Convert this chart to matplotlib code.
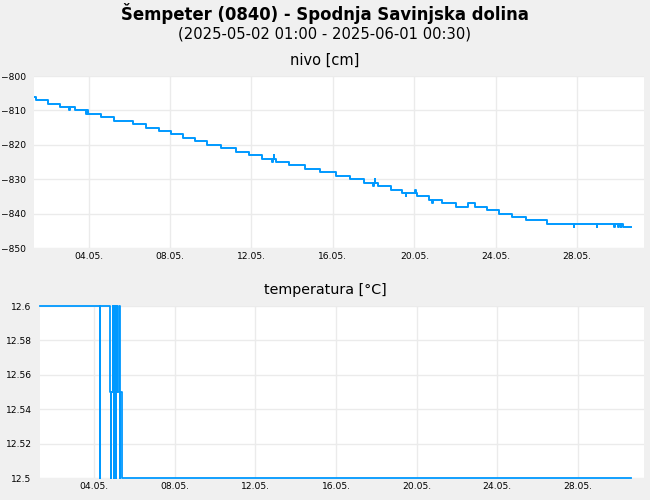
import matplotlib
matplotlib.use("Agg")
import matplotlib.pyplot as plt
import matplotlib.dates as mdates
from matplotlib.ticker import FuncFormatter, MultipleLocator
import pandas as pd

# nivo [cm] - change points of the step series
level_times = [
    "2025-05-01 07:40", "2025-05-01 10:30", "2025-05-02 00:00", "2025-05-02 14:30",
    "2025-05-03 01:30", "2025-05-03 02:00", "2025-05-03 08:00", "2025-05-03 21:30",
    "2025-05-03 22:00", "2025-05-03 23:00", "2025-05-04 15:00", "2025-05-05 06:30",
    "2025-05-06 04:00", "2025-05-06 20:00", "2025-05-07 11:00", "2025-05-08 01:30",
    "2025-05-08 15:30", "2025-05-09 05:00", "2025-05-09 20:00", "2025-05-10 12:30",
    "2025-05-11 05:30", "2025-05-11 21:30", "2025-05-12 12:00", "2025-05-13 00:30",
    "2025-05-13 01:00", "2025-05-13 02:30", "2025-05-13 03:00", "2025-05-13 04:30",
    "2025-05-13 20:00", "2025-05-14 15:00", "2025-05-15 08:30", "2025-05-16 04:00",
    "2025-05-16 20:30", "2025-05-17 12:30", "2025-05-17 23:30", "2025-05-18 00:00",
    "2025-05-18 01:30", "2025-05-18 02:00", "2025-05-18 05:00", "2025-05-18 20:00",
    "2025-05-19 10:00", "2025-05-19 14:00", "2025-05-19 14:30", "2025-05-20 01:00",
    "2025-05-20 01:30", "2025-05-20 03:00", "2025-05-20 17:00", "2025-05-20 21:00",
    "2025-05-20 21:30", "2025-05-21 08:00", "2025-05-22 01:00", "2025-05-22 15:30",
    "2025-05-22 23:00", "2025-05-23 13:30", "2025-05-24 04:00", "2025-05-24 19:30",
    "2025-05-25 11:30", "2025-05-26 12:00", "2025-05-27 20:00", "2025-05-27 20:30",
    "2025-05-28 23:00", "2025-05-28 23:30", "2025-05-29 19:00", "2025-05-29 21:00",
    "2025-05-29 23:30", "2025-05-30 01:00", "2025-05-30 03:00", "2025-05-30 04:00",
    "2025-05-30 06:00", "2025-05-30 15:00",
]
level_values = [
    -806, -807, -808, -809,
    -810, -809, -810, -811,
    -810, -811, -812, -813,
    -814, -815, -816, -817,
    -818, -819, -820, -821,
    -822, -823, -824, -825,
    -824, -823, -824, -825,
    -826, -827, -828, -829,
    -830, -831, -832, -831,
    -830, -831, -832, -833,
    -834, -835, -834, -833,
    -834, -835, -836, -837,
    -836, -837, -838, -837,
    -838, -839, -840, -841,
    -842, -843, -844, -843,
    -844, -843, -844, -843,
    -844, -843, -844, -843,
    -844, -844,
]

# temperatura [°C] - change points
temp_times = [
    "2025-05-01 07:40", "2025-05-04 07:00", "2025-05-04 07:30", "2025-05-04 19:00",
    "2025-05-04 20:00", "2025-05-04 20:30", "2025-05-04 22:00", "2025-05-04 22:30",
    "2025-05-04 23:30", "2025-05-05 00:00", "2025-05-05 01:00", "2025-05-05 01:30",
    "2025-05-05 02:00", "2025-05-05 02:30", "2025-05-05 03:00", "2025-05-05 03:30",
    "2025-05-05 06:00", "2025-05-05 06:30", "2025-05-05 07:00", "2025-05-05 09:00",
    "2025-05-30 15:00",
]
temp_values = [
    12.6, 12.5, 12.6, 12.55,
    12.5, 12.55, 12.6, 12.55,
    12.5, 12.55, 12.6, 12.55,
    12.5, 12.55, 12.6, 12.55,
    12.6, 12.5, 12.55, 12.5,
    12.5,
]

title = "Šempeter (0840) - Spodnja Savinjska dolina"
subtitle = "(2025-05-02 01:00 - 2025-06-01 00:30)"
x_start = "2025-05-01 07:40"
x_end = "2025-05-31 06:40"
tick_days = ["2025-05-04", "2025-05-08", "2025-05-12", "2025-05-16",
             "2025-05-20", "2025-05-24", "2025-05-28"]

line_color = "#0099ff"
grid_color = "#ebebeb"
bg = "#f0f0f0"

plt.rcParams["font.family"] = ["DejaVu Sans"]

fig = plt.figure(figsize=(6.5, 5), dpi=100, facecolor=bg)
ax1 = fig.add_axes([34 / 650, 0.504, 610 / 650, 0.344])
ax2 = fig.add_axes([40 / 650, 0.044, 604 / 650, 0.344])

lt = pd.to_datetime(level_times)
tt = pd.to_datetime(temp_times)
ax1.plot(lt, level_values, drawstyle="steps-post", color=line_color, lw=1.4)
ax2.plot(tt, temp_values, drawstyle="steps-post", color=line_color, lw=1.3,
         clip_on=False)

ax1.set_ylim(-850, -800)
ax1.yaxis.set_major_locator(MultipleLocator(10))
ax2.set_ylim(12.5, 12.6)
ax2.yaxis.set_major_locator(MultipleLocator(0.02))
ax2.yaxis.set_major_formatter(FuncFormatter(lambda v, p: "%g" % round(v, 2)))

for ax in (ax1, ax2):
    ax.set_facecolor("white")
    ax.set_xlim(pd.Timestamp(x_start), pd.Timestamp(x_end))
    ax.set_xticks(pd.to_datetime(tick_days))
    ax.xaxis.set_major_formatter(mdates.DateFormatter("%d.%m."))
    for s in ax.spines.values():
        s.set_visible(False)
    ax.grid(True, color=grid_color, lw=1)
    ax.set_axisbelow(True)
    ax.tick_params(length=0, labelsize=6.6, colors="black")
    ax.tick_params(axis="y", pad=6)
    ax.tick_params(axis="x", pad=3)

fig.text(0.5, 1 - 14 / 500, title, ha="center", va="center",
         fontsize=11.9, fontweight="bold")
fig.text(0.5, 1 - 34 / 500, subtitle, ha="center", va="center", fontsize=10.6)
fig.text(0.5, 1 - 60 / 500, "nivo [cm]", ha="center", va="center", fontsize=10.5)
fig.text(0.5, 1 - 290 / 500, "temperatura [°C]", ha="center", va="center",
         fontsize=10.3)

fig.savefig("out.png", dpi=100, facecolor=bg)
